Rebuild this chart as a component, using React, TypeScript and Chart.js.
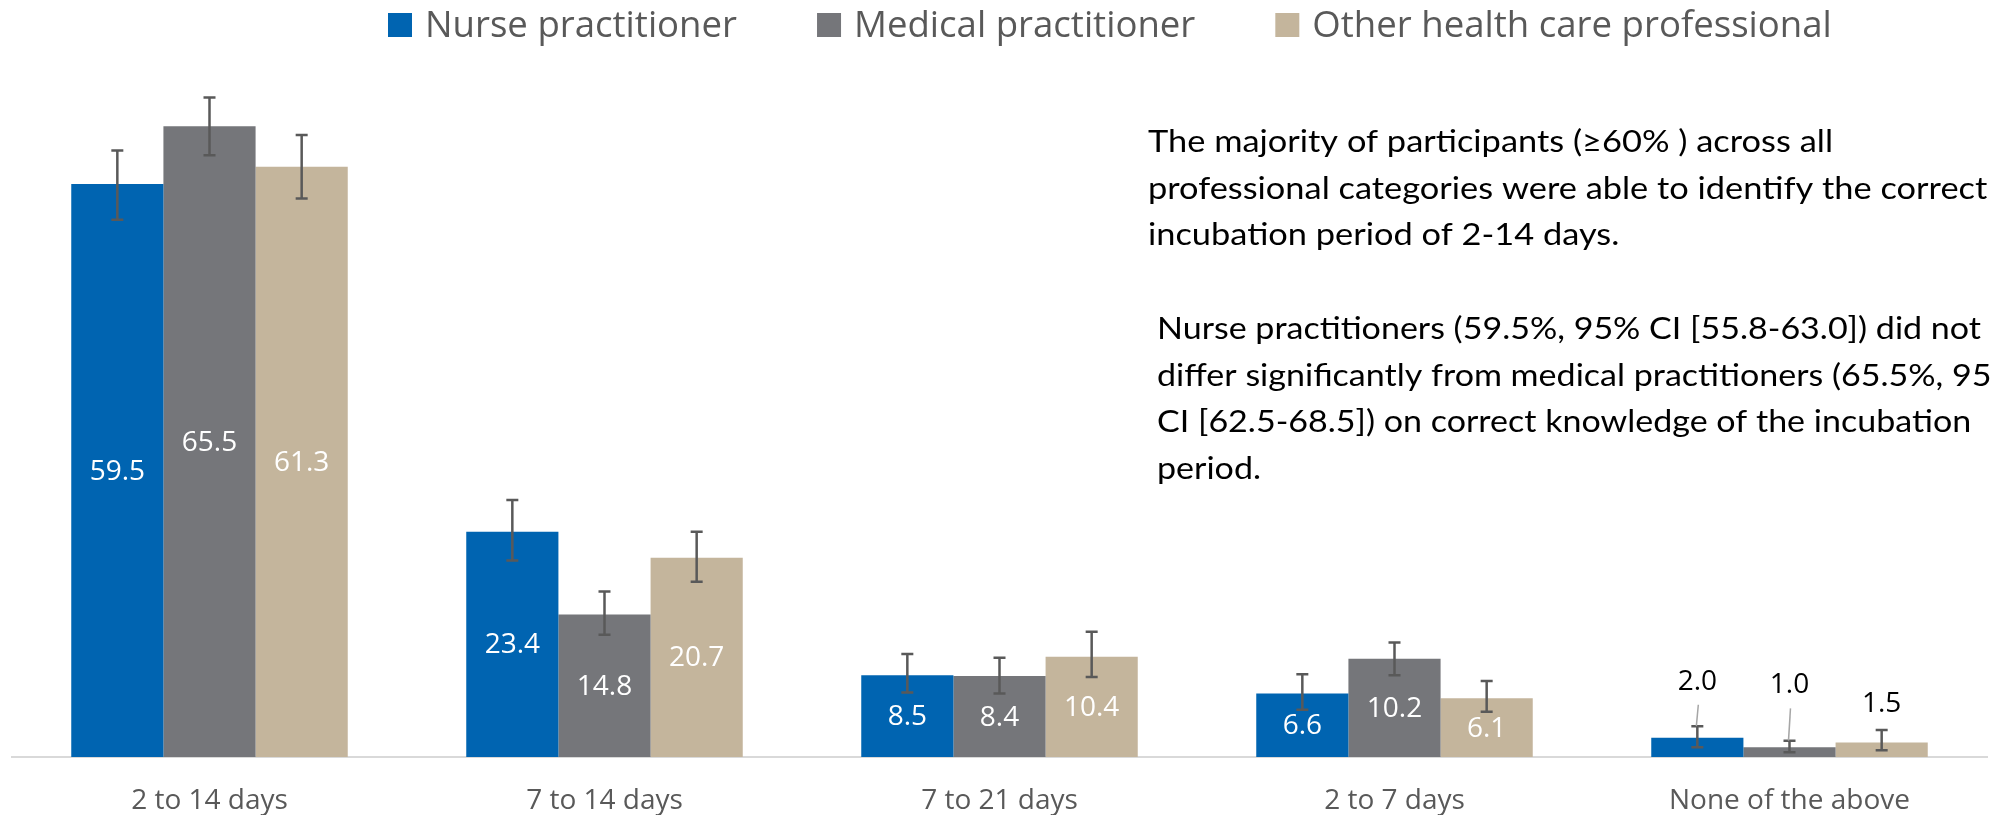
import React, { useEffect, useRef } from "react";
import { Chart, registerables } from "chart.js";

Chart.register(...registerables);

const categories = ["2 to 14 days", "7 to 14 days", "7 to 21 days", "2 to 7 days", "None of the above"];
const seriesNames = ["Nurse practitioner", "Medical practitioner", "Other health care professional"];

const nurseValues = [59.5, 23.4, 8.5, 6.6, 2.0];
const nurseLow = [55.8, 20.4, 6.7, 4.9, 1.0];
const nurseHigh = [63.0, 26.7, 10.7, 8.6, 3.2];

const medicalValues = [65.5, 14.8, 8.4, 10.2, 1.0];
const medicalLow = [62.5, 12.7, 6.6, 8.5, 0.5];
const medicalHigh = [68.5, 17.2, 10.3, 11.9, 1.7];

const otherValues = [61.3, 20.7, 10.4, 6.1, 1.5];
const otherLow = [58.0, 18.2, 8.3, 4.7, 0.7];
const otherHigh = [64.6, 23.4, 13.0, 7.9, 2.8];

const seriesColors = ["#0064B1", "#75767A", "#C4B59C"];

const annotation1 = [
  "The majority of participants (\u226560% ) across all",
  "professional categories were able to identify the correct",
  "incubation period of 2-14 days.",
];
const annotation2 = [
  "Nurse practitioners (59.5%, 95% CI [55.8-63.0]) did not",
  "differ significantly from medical practitioners (65.5%, 95%",
  "CI [62.5-68.5]) on correct knowledge of the incubation",
  "period.",
];

const lows = [nurseLow, medicalLow, otherLow];
const highs = [nurseHigh, medicalHigh, otherHigh];

const errorBarPlugin = {
  id: "errorBars",
  afterDatasetsDraw(chart: any) {
    const ctx = chart.ctx;
    const yScale = chart.scales.y;
    ctx.save();
    ctx.strokeStyle = "#595959";
    ctx.lineWidth = 2.5;
    chart.data.datasets.forEach((ds: any, i: number) => {
      const meta = chart.getDatasetMeta(i);
      meta.data.forEach((el: any, j: number) => {
        const x = el.x;
        const yh = yScale.getPixelForValue(highs[i][j]);
        const yl = yScale.getPixelForValue(lows[i][j]);
        ctx.beginPath();
        ctx.moveTo(x, yh);
        ctx.lineTo(x, yl);
        ctx.moveTo(x - 6, yh);
        ctx.lineTo(x + 6, yh);
        ctx.moveTo(x - 6, yl);
        ctx.lineTo(x + 6, yl);
        ctx.stroke();
      });
    });
    ctx.restore();
  },
};

const valueLabelPlugin = {
  id: "valueLabels",
  afterDatasetsDraw(chart: any) {
    const ctx = chart.ctx;
    const yScale = chart.scales.y;
    const lift = [56, 62, 39];
    ctx.save();
    ctx.font = "28px 'Open Sans'";
    ctx.textAlign = "center";
    ctx.textBaseline = "middle";
    chart.data.datasets.forEach((ds: any, i: number) => {
      const meta = chart.getDatasetMeta(i);
      meta.data.forEach((el: any, j: number) => {
        const v = ds.data[j];
        const txt = v.toFixed(1);
        const h = el.base - el.y;
        if (h > 40) {
          ctx.fillStyle = "#FFFFFF";
          ctx.fillText(txt, el.x, (el.y + el.base) / 2 + 1);
        } else {
          const cy = el.y - lift[i];
          const errTop = yScale.getPixelForValue(highs[i][j]);
          if (errTop - (cy + 23) > 10) {
            ctx.strokeStyle = "#A6A6A6";
            ctx.lineWidth = 1.5;
            ctx.beginPath();
            ctx.moveTo(el.x + 1, cy + 23);
            ctx.lineTo(el.x - 1, errTop);
            ctx.stroke();
          }
          ctx.fillStyle = "#000000";
          ctx.fillText(txt, el.x, cy);
        }
      });
    });
    ctx.restore();
  },
};

const legendPlugin = {
  id: "customLegend",
  afterDraw(chart: any) {
    const ctx = chart.ctx;
    ctx.save();
    ctx.font = "36.6px 'Open Sans'";
    ctx.textBaseline = "alphabetic";
    ctx.textAlign = "left";
    let x = 388;
    chart.data.datasets.forEach((ds: any) => {
      ctx.fillStyle = ds.backgroundColor;
      ctx.fillRect(x, 13, 24, 24);
      x += 24 + 13;
      ctx.fillStyle = "#595959";
      ctx.fillText(ds.label, x, 37);
      x += ctx.measureText(ds.label).width + 80;
    });
    ctx.restore();
  },
};

function drawBlock(ctx: any, lines: string[], left: number, top: number, step: number, firstWidth: number) {
  ctx.font = "31px Lato";
  const sx = firstWidth / ctx.measureText(lines[0]).width;
  lines.forEach((line, k) => {
    ctx.save();
    ctx.translate(left, top + k * step);
    ctx.scale(sx, 1);
    ctx.fillText(line, 0, 0);
    ctx.restore();
  });
}

const annotationPlugin = {
  id: "annotations",
  afterDraw(chart: any) {
    const ctx = chart.ctx;
    ctx.save();
    ctx.fillStyle = "#000000";
    ctx.textBaseline = "alphabetic";
    ctx.textAlign = "left";
    drawBlock(ctx, annotation1, 1148, 152, 46.5, 685);
    drawBlock(ctx, annotation2, 1157, 339, 46.5, 824);
    ctx.restore();
  },
};

export default function App() {
  const canvasRef = useRef<HTMLCanvasElement | null>(null);

  useEffect(() => {
    if (!canvasRef.current) return;
    const datasets = [nurseValues, medicalValues, otherValues].map((vals, i) => ({
      label: seriesNames[i],
      data: vals,
      backgroundColor: seriesColors[i],
      borderWidth: 0,
      categoryPercentage: 0.7,
      barPercentage: 1.0,
    }));
    const chart = new Chart(canvasRef.current, {
      type: "bar",
      data: { labels: categories, datasets },
      options: {
        responsive: false,
        animation: false,
        layout: { padding: { left: 12, right: 5, top: 83, bottom: 0 } },
        plugins: {
          legend: { display: false },
          tooltip: { enabled: false },
        },
        scales: {
          x: {
            grid: { display: false, drawTicks: false },
            border: { display: true, color: "#D9D9D9", width: 2 },
            ticks: {
              color: "#595959",
              font: { family: "'Open Sans'", size: 28 },
              padding: 27,
              maxRotation: 0,
              autoSkip: false,
            },
            afterFit: (scale: any) => {
              scale.height = 58;
            },
          },
          y: {
            display: false,
            min: 0,
            max: 70,
          },
        },
      },
      plugins: [errorBarPlugin, valueLabelPlugin, legendPlugin, annotationPlugin],
    });
    return () => chart.destroy();
  }, []);

  return (
    <div style={{ position: "fixed", left: 0, top: 0, width: 1992, height: 815, background: "#FFFFFF" }}>
      <canvas ref={canvasRef} width={1992} height={815} style={{ display: "block" }} />
    </div>
  );
}
